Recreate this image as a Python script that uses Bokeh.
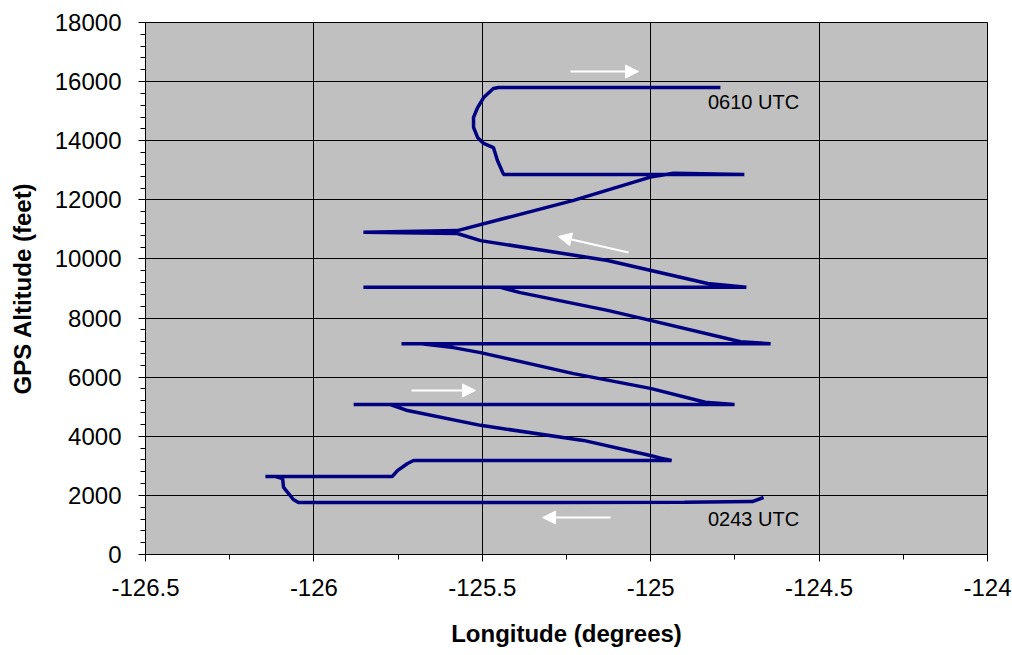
from bokeh.plotting import figure
from bokeh.models import FixedTicker, Arrow, NormalHead, Label
from bokeh.embed import file_html
from bokeh.resources import INLINE

# Flight track: longitude (degrees) and GPS altitude (feet), from 0243 UTC to 0610 UTC
lon = [-124.665, -124.698, -124.90, -125.30, -125.70, -126.046, -126.061, -126.075, -126.090,
       -126.093, -126.114, -126.144, -125.767, -125.752, -125.722, -125.704, -124.938,
       -124.970, -125.001, -125.200, -125.505, -125.722, -125.773, -125.882, -124.751,
       -124.838, -125.001, -125.229, -125.505, -125.586, -125.680, -125.740, -124.644,
       -124.733, -125.001, -125.128, -125.387, -125.446, -125.853, -124.716, -124.831,
       -125.128, -125.505, -125.574, -125.853, -125.574, -125.229, -125.001, -124.932,
       -124.722, -125.437, -125.455, -125.467, -125.496, -125.514, -125.526, -125.526,
       -125.514, -125.496, -125.467, -125.452, -124.793]
alt = [1930, 1790, 1770, 1760, 1760, 1760, 1860, 2060, 2270,
       2570, 2640, 2640, 2640, 2840, 3080, 3180, 3180,
       3260, 3350, 3860, 4370, 4870, 5075, 5075, 5075,
       5150, 5620, 6120, 6830, 7000, 7130, 7130, 7130,
       7200, 7920, 8260, 8860, 9040, 9040, 9040, 9170,
       9950, 10620, 10860, 10900, 10960, 11980, 12770, 12900,
       12860, 12860, 13330, 13770, 13910, 14110, 14450, 14790,
       15120, 15460, 15770, 15800, 15800]

# Direction arrows (start lon, start alt, end lon, end alt)
arrow_x0 = [-125.238, -125.066, -125.710, -125.119]
arrow_y0 = [16340, 10220, 5550, 1250]
arrow_x1 = [-125.036, -125.274, -125.520, -125.321]
arrow_y1 = [16340, 10760, 5550, 1250]

# Time labels
time_text = ["0610 UTC", "0243 UTC"]
time_x = [-124.83, -124.83]
time_y = [15320, 1200]

x_ticks = [-126.5, -126.0, -125.5, -125.0, -124.5, -124.0]
x_tick_labels = ["-126.5", "-126", "-125.5", "-125", "-124.5", "-124"]
x_minor = [-126.25, -125.75, -125.25, -124.75, -124.25]
y_ticks = [0, 2000, 4000, 6000, 8000, 10000, 12000, 14000, 16000, 18000]
y_tick_labels = ["0", "2000", "4000", "6000", "8000", "10000", "12000", "14000", "16000", "18000"]
y_minor = [v for v in range(0, 18001, 400) if v % 2000 != 0]

FONT = "Liberation Sans"

p = figure(width=1012, height=655, output_backend="svg", toolbar_location=None,
           x_range=(-126.5, -124.0), y_range=(0, 18000),
           min_border_left=145, min_border_right=25, min_border_top=22, min_border_bottom=101,
           background_fill_color="#C0C0C0", border_fill_color="white",
           outline_line_color="black", outline_line_width=1)

p.xaxis.ticker = FixedTicker(ticks=x_ticks, minor_ticks=x_minor)
p.yaxis.ticker = FixedTicker(ticks=y_ticks, minor_ticks=y_minor)
p.xaxis.major_label_overrides = {v: s for v, s in zip(x_ticks, x_tick_labels)}
p.yaxis.major_label_overrides = {v: s for v, s in zip(y_ticks, y_tick_labels)}

for ax in (p.xaxis, p.yaxis):
    ax.axis_line_color = "black"
    ax.axis_line_width = 1
    ax.major_tick_line_color = "black"
    ax.minor_tick_line_color = "black"
    ax.major_tick_in = 7
    ax.major_tick_out = 7
    ax.minor_tick_in = 0
    ax.minor_tick_out = 5
    ax.major_label_text_font = FONT
    ax.major_label_text_font_size = "24px"
    ax.major_label_text_color = "black"
    ax.major_label_standoff = 17
    ax.axis_label_text_font = FONT
    ax.axis_label_text_font_size = "24px"
    ax.axis_label_text_font_style = "bold"
    ax.axis_label_text_color = "black"

p.xaxis.axis_label = "Longitude (degrees)"
p.yaxis.axis_label = "GPS Altitude (feet)"
p.xaxis.axis_label_standoff = 21
p.yaxis.axis_label_standoff = 16

p.xgrid.grid_line_color = "black"
p.ygrid.grid_line_color = "black"
p.xgrid.grid_line_width = 1
p.ygrid.grid_line_width = 1

p.line(lon, alt, line_color="#000080", line_width=3.5)

for x0, y0, x1, y1 in zip(arrow_x0, arrow_y0, arrow_x1, arrow_y1):
    p.add_layout(Arrow(x_start=x0, y_start=y0, x_end=x1, y_end=y1,
                       line_color="white", line_width=2,
                       end=NormalHead(size=13, fill_color="white", line_color="white")))

for t, x, y in zip(time_text, time_x, time_y):
    p.add_layout(Label(x=x, y=y, text=t, text_font=FONT, text_font_size="20px",
                       text_color="black", text_baseline="middle", text_align="left"))

open("out.html", "w").write(file_html(p, INLINE))
